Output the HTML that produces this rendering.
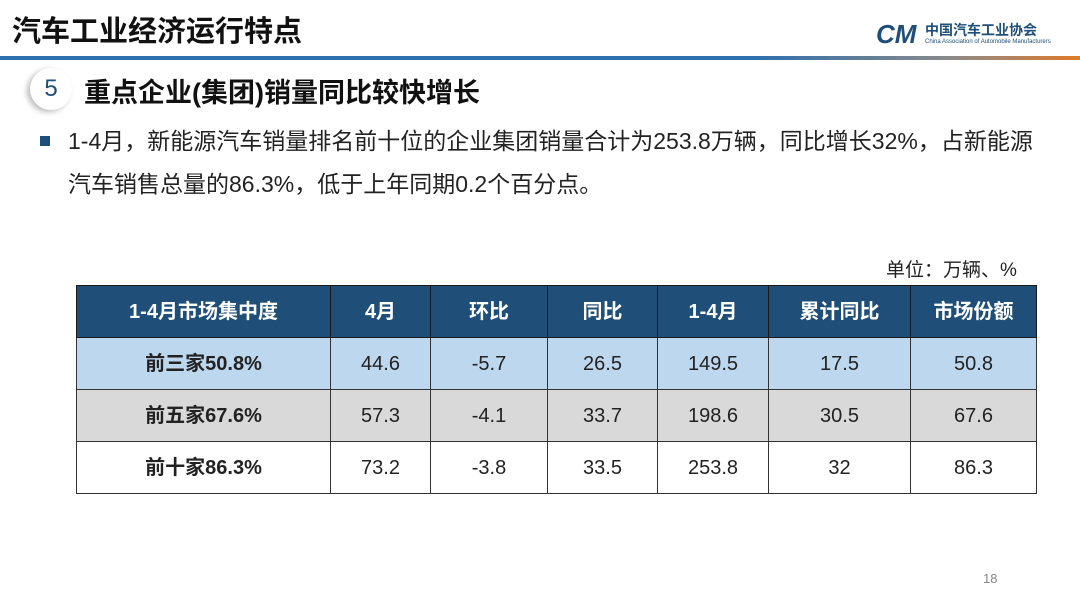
<!DOCTYPE html>
<html><head><meta charset="utf-8"><style>
body{margin:0;width:1080px;height:607px;background:#fff;position:relative;overflow:hidden;font-family:"Liberation Sans","Noto Sans CJK SC",sans-serif;}
.abs{position:absolute;}
table{border-collapse:collapse;position:absolute;left:76px;top:285px;width:960px;table-layout:fixed;}
td{border:1.5px solid #333;text-align:center;vertical-align:middle;font-size:20px;line-height:22px;color:#222;height:51px;padding:0;}
tr.h td{background:#1f4e79;color:#fff;font-weight:bold;border-color:#1a1a1a;}
tr.r1 td{background:#bdd7ee;}
tr.r2 td{background:#d9d9d9;}
tr.r3 td{background:#fff;}
td.f{font-weight:bold;}
</style></head><body>
<div class="abs" style="left:12px;top:8px;font-size:29px;font-weight:bold;color:#111;">汽车工业经济运行特点</div>
<div class="abs" style="left:876px;top:22px;width:40px;height:24px;font-size:26px;font-weight:bold;color:#1f4e79;font-style:italic;line-height:24px;">CM</div>
<div class="abs" style="left:925px;top:20px;font-size:14px;font-weight:bold;color:#1f4e79;">中国汽车工业协会</div>
<div class="abs" style="left:925px;top:39px;font-size:6px;color:#1f4e79;">China Association of Automobile Manufacturers</div>
<div class="abs" style="left:0;top:56px;width:1080px;height:4px;background:linear-gradient(90deg,#2f6fad 0%,#2f6fad 70%,#8a8a8a 88%,#e07a2a 100%);"></div>
<div class="abs" style="left:30px;top:68px;width:42px;height:42px;border-radius:50%;background:#fff;box-shadow:-3px 2px 6px #bbb;text-align:center;line-height:42px;font-size:24px;color:#1f4e79;">5</div>
<div class="abs" style="left:84px;top:71px;font-size:27px;font-weight:bold;color:#111;">重点企业(集团)销量同比较快增长</div>
<div class="abs" style="left:40px;top:136px;width:10px;height:10px;background:#1f4e79;"></div>
<div class="abs" style="left:68px;top:120px;width:976px;font-size:23px;line-height:43px;color:#222;">1-4月，新能源汽车销量排名前十位的企业集团销量合计为253.8万辆，同比增长32%，占新能源汽车销售总量的86.3%，低于上年同期0.2个百分点。</div>
<div class="abs" style="left:886px;top:255px;font-size:19px;color:#222;">单位：万辆、%</div>
<table>
<colgroup><col style="width:254px"><col style="width:100px"><col style="width:117px"><col style="width:110px"><col style="width:111px"><col style="width:142px"><col style="width:126px"></colgroup>
<tr class="h"><td>1-4月市场集中度</td><td>4月</td><td>环比</td><td>同比</td><td>1-4月</td><td>累计同比</td><td>市场份额</td></tr>
<tr class="r1"><td class="f">前三家50.8%</td><td>44.6</td><td>-5.7</td><td>26.5</td><td>149.5</td><td>17.5</td><td>50.8</td></tr>
<tr class="r2"><td class="f">前五家67.6%</td><td>57.3</td><td>-4.1</td><td>33.7</td><td>198.6</td><td>30.5</td><td>67.6</td></tr>
<tr class="r3"><td class="f">前十家86.3%</td><td>73.2</td><td>-3.8</td><td>33.5</td><td>253.8</td><td>32</td><td>86.3</td></tr>
</table>
<div class="abs" style="left:983px;top:571px;font-size:13px;color:#888;">18</div>
</body></html>
